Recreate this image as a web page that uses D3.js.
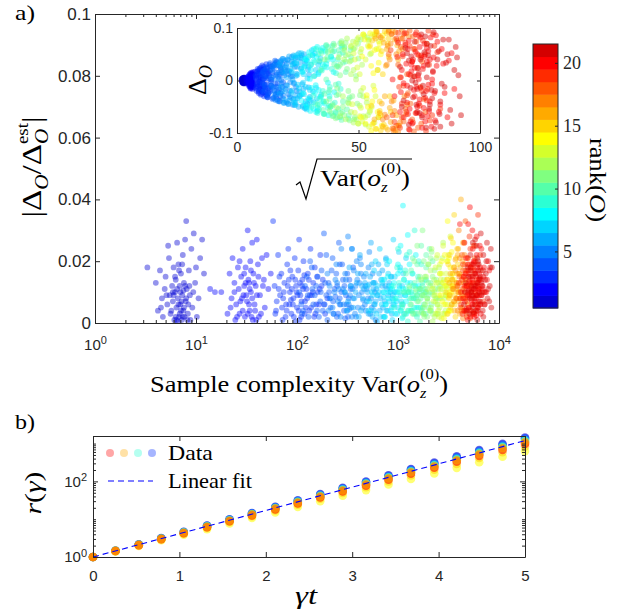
<!DOCTYPE html>
<html>
<head>
<meta charset="utf-8">
<title>Rank scatter</title>
<script src="https://cdnjs.cloudflare.com/ajax/libs/d3/7.8.5/d3.min.js"></script>
<style>
  body { margin: 0; background: #fff; }
  svg { font-family: "Liberation Sans", Arial, sans-serif; }
  .tick text { fill: #262626; }
  .domain, .tick line { stroke: #262626; stroke-width: 1; }
  .serif { font-family: "Liberation Serif", "DejaVu Serif", serif; fill: #000; }
</style>
</head>
<body>
<svg id="fig" width="628" height="616"></svg>
<script>
// each point: [Var(o_z), |dO/dO_est|, dO]
const rank01 = [[3.3,.018,.002],[4.0,.013,-.001],[4.2,.004,.003],[4.4,.017,-.003],[4.6,.008,.001],[4.7,.002,-.002],[4.9,.011,.004],[5.0,.015,0],[5.2,.006,-.004],[5.3,.025,.002],[5.4,.021,-.001],[5.5,.009,.003],[5.6,.003,-.003],[5.8,.012,.001],[5.9,.007,-.002],[6.0,.018,.005],[6.1,.001,-.005],[6.2,.010,.002],[6.3,.014,-.001],[6.4,.005,.003],[6.5,.026,-.004],[6.6,.008,.001],[6.7,.019,-.002],[6.8,.002,.004],[6.9,.012,-.003],[7.0,.006,0],[7.1,.016,.002],[7.2,.001,-.001],[7.3,.009,.005],[7.4,.022,-.005],[7.5,.004,.003],[7.6,.013,-.002],[7.8,.027,.001],[7.9,.007,-.004],[8.0,.033,.002],[8.1,.011,-.001],[8.3,.003,.004],[8.5,.017,-.003],[8.7,.009,.006],[9.0,.024,-.006],[9.2,.005,.001],[9.5,.029,-.002],[9.8,.013,.003],[10.2,.002,-.004],[10.6,.008,.005],[11.0,.021,-.001],[11.5,.027,.002],[12.0,.016,-.005],[10.0,.018,.004],[8.8,.001,-.003],[6.6,.0005,.002],[7.7,.002,-.001],
  [5.7,.004,.001],[6.0,.009,-.002],[6.3,.002,.003],[6.5,.011,-.001],[6.7,.006,.002],[6.9,.003,-.003],[7.0,.010,.004],[7.2,.007,-.001],[7.4,.002,.002],[7.6,.005,-.004],[7.8,.012,.003],[8.0,.008,-.002],[8.2,.001,.001],[8.4,.006,-.003],[6.2,.015,.002],[6.8,.017,-.004],[7.3,.019,.001],[5.9,.010,-.001],[6.4,.001,.004],[7.1,.004,-.002],[7.5,.0105,0],[8.6,.012,.005],[5.1,.009,-.003],[4.5,.005,.002],[9.4,.010,-.004]];
const rank02 = [[13.8,.011,.003],[15.4,.010,-.004],[17.8,.010,.006],[20.5,.003,-.002],[21.5,.016,.008],[22.5,.008,-.007],[23,.021,.001],[24,.013,-.010],[24.5,.001,.004],[25,.006,-.001],[26,.018,.011],[26.5,.011,-.005],[27,.003,.002],[28,.015,-.012],[28.5,.008,.007],[29,.024,-.003],[30,.012,.013],[30.5,.002,-.008],[31,.018,.004],[32,.007,-.014],[32.5,.030,.009],[33,.014,-.001],[34,.004,.015],[34.5,.020,-.006],[35,.010,.002],[36,.026,-.011],[37,.016,.012],[38,.006,-.004],[39,.012,.006],[40,.027,-.016],[41,.019,.010],[42,.002,-.002],[43,.009,.016],[45,.021,-.009],[47,.014,.004],[48,.005,-.013],[50,.022,.011],[52,.011,-.006],[55,.016,.017],[36.5,.001,-.001],[29.5,.009,.005],[33.5,.013,-.007],
  [22,.005,.006],[24,.010,-.003],[25.5,.002,.009],[27.5,.007,-.008],[29,.004,.001],[30,.016,-.011],[31.5,.009,.012],[32.5,.003,-.005],[33.5,.006,.007],[34,.011,-.002],[35.5,.002,.010],[36,.008,-.013],[37.5,.013,.003],[38.5,.004,-.009],[40,.009,.014],[41.5,.015,-.004],[44,.003,.008],[46,.012,-.010],[27,.020,.004],[31,.013,-.015],[35,.017,.005],[39.5,.001,-.007]];
const rank03 = [[58,.033,.010],[60,.012,-.015],[62,.004,.004],[65,.022,-.020],[68,.009,.017],[70,.016,-.006],[72,.001,.022],[75,.013,-.011],[78,.006,.002],[80,.019,-.024],[82,.024,.013],[85,.010,-.002],[88,.003,.019],[90,.015,-.016],[92,.008,.007],[95,.021,-.027],[98,.012,.025],[100,.005,-.009],[103,.017,.011],[105,.027,-.019],[108,.009,.029],[110,.002,-.004],[113,.014,.016],[116,.020,-.023],[120,.007,.003],[124,.011,-.030],[128,.016,.021],[132,.004,-.013],[136,.024,.008],[140,.009,-.026],[145,.013,.031],[150,.018,-.007],[155,.006,.018],[160,.010,-.032],[170,.022,.014],[180,.014,-.018],[190,.003,.027],[200,.008,-.010],[87,.0075,-.003],[97,.0005,.006],[118,.0155,-.012],
  [63,.007,.009],[67,.015,-.012],[71,.005,.018],[74,.010,-.003],[77,.002,.014],[81,.012,-.021],[84,.006,.006],[86,.017,-.009],[89,.011,.023],[93,.002,-.017],[96,.014,.001],[101,.009,-.025],[104,.004,.012],[107,.013,-.005],[111,.007,.020],[115,.011,-.014],[119,.003,.026],[126,.008,-.008],[131,.014,.017],[138,.005,-.022],[143,.010,.004],[148,.002,-.028],[158,.015,.024],[165,.006,-.015],[175,.012,.009],
  [61,.003,.005],[66,.011,-.007],[73,.008,.012],[79,.004,-.018],[83,.014,.021],[91,.006,-.011],[99,.010,.015],[106,.001,-.021],[112,.012,.003],[122,.005,.022],[134,.009,-.016],[152,.003,.013],[168,.011,-.024],[185,.006,.019]];
const rank04 = [[105,.010,.012],[115,.004,-.021],[125,.015,.005],[135,.020,-.008],[145,.006,.026],[155,.012,-.030],[165,.002,.017],[175,.017,-.014],[185,.029,.033],[195,.009,-.002],[205,.013,.022],[215,.005,-.035],[225,.021,.009],[235,.011,-.019],[245,.016,.038],[255,.003,-.026],[265,.008,.015],[280,.019,-.005],[295,.012,.029],[310,.006,-.039],[330,.014,.020],[350,.024,-.012],[200,.001,.001],[170,.007,-.024],[240,.0085,.030],[300,.0015,-.017],[140,.018,.010],[260,.026,-.031],
  [110,.006,-.005],[120,.012,.019],[130,.002,-.016],[150,.009,.008],[160,.015,-.027],[180,.004,.030],[190,.013,-.010],[210,.008,.014],[220,.017,-.033],[230,.003,.024],[250,.012,-.006],[270,.006,.035],[285,.014,-.022],[305,.009,.011],[320,.002,-.030],[340,.011,.016],[360,.018,-.003],[195,.022,.002],[265,.019,-.012],[315,.016,.026],
  [112,.003,.016],[128,.009,-.010],[142,.011,.023],[158,.004,-.032],[172,.010,.004],[188,.006,-.020],[208,.010,.027],[228,.007,-.012],[248,.002,.033],[275,.010,-.036],[292,.004,.007],[325,.008,-.024],[345,.005,.031]];
const rank05 = [[200,.016,-.010],[215,.008,.027],[230,.003,-.033],[245,.019,.004],[260,.011,.036],[275,.024,-.022],[290,.006,.015],[305,.014,-.040],[320,.028,.024],[335,.009,-.006],[350,.002,.041],[365,.017,-.029],[380,.012,.010],[400,.005,-.016],[420,.021,.032],[440,.010,-.044],[460,.015,.018],[480,.004,-.003],[510,.018,.045],[540,.008,-.035],[570,.013,.026],[600,.001,-.020],[330,.0045,.001],[450,.0075,-.026],[390,.020,.038],[250,.013,-.037],[520,.023,.008],
  [210,.012,.020],[225,.005,-.014],[240,.014,.030],[255,.007,-.027],[270,.002,.011],[285,.011,-.039],[300,.016,.003],[315,.004,.035],[340,.012,-.021],[360,.008,.014],[375,.003,-.042],[395,.014,.025],[410,.009,-.009],[430,.016,.040],[470,.006,-.031],[490,.011,.008],[530,.003,-.046],[560,.016,.033],[590,.010,-.012],[430,.019,.019],
  [205,.004,.006],[235,.010,-.024],[265,.006,.029],[295,.010,-.013],[325,.006,.038],[355,.011,-.034],[385,.002,.021],[415,.013,-.041],[445,.005,.012],[475,.012,-.020],[505,.008,.036],[550,.005,-.006],[580,.006,.043]];
const rank06 = [[300,.010,.030],[330,.018,-.012],[360,.005,.041],[390,.013,-.037],[420,.022,.006],[450,.008,-.045],[480,.016,.022],[510,.003,-.019],[540,.026,.048],[570,.011,-.028],[600,.007,.013],[640,.019,-.050],[680,.014,.035],[720,.002,-.007],[760,.021,.050],[800,.009,-.040],[850,.015,.021],[900,.006,-.031],[520,.0125,.002],[620,.0005,-.034],[350,.024,.016],[700,.017,.043],[780,.011,-.053],[440,.012,.039],
  [310,.004,-.025],[340,.012,.027],[370,.008,-.043],[400,.016,.017],[430,.004,-.010],[460,.011,.046],[490,.007,-.033],[530,.015,.031],[560,.002,-.047],[590,.013,.009],[630,.009,.044],[660,.004,-.021],[700,.012,.024],[740,.007,-.048],[820,.013,.038],[870,.003,-.013],[550,.019,-.004],[650,.016,.052],
  [320,.007,.035],[380,.010,-.020],[410,.002,.028],[470,.013,-.038],[500,.010,.015],[580,.004,-.042],[610,.011,.026],[670,.008,-.029],[710,.005,.048],[750,.012,-.016],[790,.004,.032],[840,.010,-.045],[880,.008,.011]];
const rank07 = [[500,.012,-.022],[540,.004,.040],[580,.017,-.046],[620,.009,.011],[660,.024,-.030],[700,.013,.052],[740,.002,-.004],[780,.019,.028],[820,.007,-.055],[860,.015,.045],[900,.027,-.018],[950,.010,.058],[1000,.005,-.041],[1050,.018,.020],[1100,.012,-.058],[1150,.003,.036],[1200,.021,-.027],[720,.0085,.017],[880,.001,-.036],[600,.020,.032],[1020,.023,.009],[800,.016,-.012],[560,.009,.046],
  [520,.007,.030],[570,.013,-.036],[610,.003,.049],[650,.010,-.015],[690,.006,.022],[730,.014,-.050],[770,.004,.040],[840,.011,.004],[890,.009,-.047],[930,.015,.030],[980,.003,-.021],[1030,.012,.052],[1080,.007,-.034],[1130,.016,.015],[1180,.009,.042],[760,.0205,-.026],
  [510,.004,.018],[550,.010,-.042],[590,.006,.034],[630,.012,-.008],[670,.002,.044],[710,.010,-.026],[750,.006,.012],[810,.012,-.052],[870,.005,.026],[920,.010,-.038],[970,.007,.048],[1060,.009,-.014],[1120,.006,.030]];
const rank08 = [[700,.014,-.038],[760,.006,.026],[820,.020,-.050],[880,.011,.054],[940,.003,-.014],[1000,.016,.038],[1060,.025,-.060],[1120,.038,.012],[1180,.009,-.031],[1240,.013,.062],[1300,.019,-.044],[1360,.004,.025],[1420,.008,-.066],[1500,.022,.046],[1600,.012,-.022],[900,.0075,.003],[1100,.0015,-.052],[1250,.0285,.031],[1000,.019,.060],[1400,.016,-.004],[800,.010,.042],
  [730,.010,.016],[790,.015,-.044],[850,.004,.036],[910,.013,-.058],[970,.008,.049],[1030,.011,-.024],[1090,.006,.064],[1150,.014,-.046],[1210,.003,.022],[1270,.010,-.063],[1330,.013,.055],[1450,.005,-.030],[1550,.009,.040],[1050,.017,-.009],
  [740,.002,-.024],[800,.008,.040],[860,.012,-.034],[920,.006,.020],[990,.010,-.054],[1070,.004,.045],[1130,.011,-.018],[1200,.007,.056],[1280,.004,-.040],[1350,.010,.032],[1480,.012,-.050],[1580,.005,.016]];
const rank09 = [[900,.012,.048],[980,.018,-.029],[1060,.004,.060],[1140,.014,-.055],[1220,.022,.019],[1300,.008,-.064],[1380,.016,.039],[1460,.030,-.012],[1540,.002,.066],[1620,.011,-.042],[1700,.019,.028],[1800,.006,-.070],[1900,.014,.053],[1250,.0005,-.020],[1000,.024,.008],[1600,.020,.056],[1150,.010,-.036],[1750,.013,-.006],
  [940,.008,-.050],[1020,.013,.035],[1100,.005,-.062],[1180,.017,.058],[1260,.010,-.040],[1340,.004,.066],[1420,.012,-.022],[1500,.008,.045],[1580,.015,-.067],[1660,.005,.014],[1740,.009,-.054],[1850,.011,.064],[1300,.023,.027],[1440,.003,-.048],
  [920,.005,.030],[1040,.010,-.044],[1120,.002,.050],[1200,.011,-.030],[1320,.006,.058],[1400,.009,-.052],[1520,.005,.022],[1640,.010,-.060],[1720,.004,.040],[1820,.010,-.016],[1880,.003,.066]];
const rank10 = [[1100,.006,-.046],[1200,.016,.052],[1300,.011,-.025],[1400,.021,.064],[1500,.003,-.062],[1600,.014,.031],[1700,.025,-.070],[1800,.009,.071],[1900,.018,-.040],[2000,.005,.016],[2100,.013,-.073],[2200,.020,.045],[1650,.0005,-.008],[1350,.017,.002],[1750,.012,.058],[2050,.024,-.055],[1450,.008,-.035],
  [1150,.010,.038],[1250,.004,-.056],[1350,.008,.068],[1450,.013,-.018],[1550,.007,.055],[1650,.011,-.062],[1750,.005,.026],[1850,.014,-.075],[1950,.008,.062],[2150,.006,-.032],[1550,.019,-.045],[1900,.022,.034],
  [1180,.003,.020],[1280,.010,-.064],[1380,.004,.044],[1480,.010,-.050],[1580,.003,.070],[1680,.008,-.028],[1780,.003,.050],[1880,.010,-.060],[2000,.009,.036],[2120,.004,-.066],[2180,.010,.058]];
const rank11 = [[1300,.012,.040],[1450,.020,-.058],[1600,.007,.067],[1750,.030,-.026],[1850,.015,.075],[1950,.002,-.066],[2050,.010,.022],[2150,.023,-.076],[2300,.017,.060],[2450,.006,-.044],[2600,.012,.078],[1700,.0035,-.015],[2000,.019,.048],[2250,.009,-.030],[1550,.025,-.068],[2400,.014,.009],
  [1350,.006,-.040],[1500,.011,.058],[1650,.015,-.072],[1800,.005,.030],[1900,.010,-.050],[2000,.013,.072],[2100,.004,-.020],[2200,.015,.064],[2350,.008,-.070],[2500,.011,.042],[1800,.020,.010],[2100,.021,-.036],
  [1400,.003,.054],[1550,.009,-.048],[1680,.011,.026],[1820,.002,-.062],[1960,.007,.064],[2080,.012,-.042],[2200,.003,.038],[2330,.011,-.074],[2480,.003,.070],[2560,.008,-.028]];
const rank12 = [[1700,.014,-.052],[1850,.006,.071],[2000,.019,-.074],[2150,.024,.036],[2300,.010,-.080],[2450,.003,.079],[2600,.016,-.020],[2750,.021,.085],[2900,.008,-.066],[3000,.012,.050],[2200,.0005,.012],[2550,.018,-.048],[1950,.011,.058],[2800,.026,-.084],
  [1750,.009,.044],[1900,.015,-.030],[2050,.004,.080],[2200,.012,-.060],[2350,.007,.062],[2500,.013,-.082],[2650,.008,.030],[2850,.014,-.042],[2950,.004,.078],[2400,.021,.002],[2100,.017,.050],[2700,.011,-.068],
  [1800,.003,-.068],[1950,.008,.040],[2120,.005,-.044],[2280,.014,.074],[2420,.008,-.074],[2580,.005,.054],[2700,.013,-.030],[2880,.003,.082],[2980,.009,-.060],[2300,.002,.020]];
const rank13 = [[2200,.011,.066],[2350,.018,-.061],[2500,.004,.082],[2650,.014,-.078],[2800,.025,.040],[2950,.009,-.088],[3100,.020,.087],[3250,.013,-.030],[3400,.006,.075],[2700,.0015,-.014],[2450,.022,.025],[3000,.016,-.057],[3300,.028,.060],
  [2250,.007,-.045],[2400,.013,.072],[2550,.009,-.068],[2700,.016,.088],[2850,.006,-.034],[3050,.011,.052],[3200,.004,-.080],[3350,.015,.020],[2600,.019,-.052],[2900,.012,.066],[3150,.022,-.010],[2350,.003,.040],
  [2300,.009,.052],[2480,.006,-.082],[2620,.011,.060],[2780,.003,-.070],[2920,.010,.076],[3080,.006,-.050],[3220,.009,.088],[3380,.011,-.070],[2550,.002,.012]];
const rank14 = [[2600,.016,-.070],[2750,.007,.078],[2900,.022,-.050],[3000,.012,.090],[3100,.033,-.084],[3200,.004,.058],[3300,.018,-.092],[3400,.010,.034],[3500,.026,-.066],[3600,.014,.086],[2850,.0015,-.028],[3150,.0085,.014],[3050,.020,-.096],[3450,.012,.070],
  [2650,.009,.046],[2800,.013,-.082],[2950,.006,.064],[3100,.014,-.040],[3250,.010,.094],[3350,.004,-.060],[3500,.016,.050],[3550,.007,-.086],[2700,.020,.088],[3200,.021,-.018],[3050,.003,.028],[3400,.023,.060]];
const rank15 = [[3000,.010,.066],[3150,.019,-.081],[3300,.005,.091],[3450,.014,-.040],[3600,.035,.079],[3750,.021,-.090],[3900,.008,.045],[4000,.016,-.060],[3350,.0275,.020],[3700,.002,.094],[3500,.012,-.095],[3850,.024,.070],
  [3050,.014,-.048],[3200,.008,.084],[3400,.012,-.070],[3550,.018,.056],[3650,.006,-.084],[3800,.013,.090],[3950,.010,-.030],[3100,.003,.076],[3250,.022,-.092],[3600,.009,.012],[3900,.019,.080],[3450,.016,-.058]];
const rank16 = [[3200,.013,-.074],[3400,.006,.086],[3600,.018,-.088],[3800,.011,.060],[3950,.024,-.052],[4100,.003,.095],[4250,.015,-.096],[4400,.009,.040],[4200,.040,.078],[3700,.0205,-.030],[3300,.016,.094],[4000,.007,-.079],[4350,.020,.067],
  [3250,.009,.080],[3450,.014,-.062],[3650,.004,.072],[3850,.016,-.094],[4050,.010,.088],[4300,.005,-.066],[4450,.013,.056],[3550,.011,-.044],[3900,.022,.096],[4150,.018,-.038],[3750,.008,.028],[4400,.026,-.086]];
const rank17 = [[3500,.011,.082],[3700,.017,-.065],[3900,.004,.093],[4100,.021,-.091],[4300,.009,.050],[4500,.026,-.080],[4700,.014,.088],[4900,.006,-.046],[4000,.030,.070],[4400,.0015,-.098],[3800,.013,.030],[4600,.019,.097],[4200,.008,-.058],
  [3600,.007,-.074],[3850,.012,.066],[4050,.016,-.040],[4250,.004,.092],[4450,.011,-.086],[4650,.008,.060],[4850,.017,-.064],[3950,.010,.040],[4150,.013,-.096],[4550,.022,.080],[4750,.003,-.030],[5000,.012,.084]];
const rank18 = [[3800,.008,-.070],[4050,.015,.089],[4300,.022,-.086],[4550,.004,.064],[4800,.012,-.054],[5050,.019,.095],[5300,.010,-.097],[5600,.025,.048],[5900,.006,-.035],[4650,.033,.080],[5200,.0015,-.074],[4400,.017,.030],[5450,.013,.074],[5750,.021,-.082],[4900,.009,.012],
  [3900,.012,.050],[4150,.005,-.092],[4350,.011,.076],[4600,.016,-.070],[4850,.007,.090],[5100,.013,-.044],[5350,.004,.060],[5550,.017,-.090],[5800,.010,.036],[6000,.014,-.060],[4500,.008,.006],[4950,.021,-.024],[5250,.018,.084],[5700,.003,-.012],[6100,.012,.070],[4700,.014,-.078]];
const rank19 = [[4000,.013,.058],[4200,.006,-.079],[4400,.019,.091],[4600,.010,-.044],[4800,.002,.072],[5000,.016,-.093],[5200,.024,.036],[5400,.008,-.062],[5600,.013,.085],[5800,.020,-.020],[6000,.004,.050],[6300,.011,-.076],[6600,.017,.066],[7000,.007,-.054],[5100,.028,.010],[6200,.035,.095],[4700,.012,-.010],[5500,.018,.024],[6100,.009,-.038],[5300,.015,.060],
  [4100,.008,-.066],[4300,.014,.080],[4500,.004,-.090],[4650,.017,.046],[4900,.010,-.028],[5050,.005,.066],[5250,.012,-.080],[5450,.003,.092],[5650,.016,-.048],[5850,.009,.076],[6050,.013,-.096],[6250,.006,.030],[6450,.014,-.066],[6800,.010,.054],[4850,.021,-.060],[5750,.025,.044],[6150,.019,-.016],[5350,.011,.008],[4450,.015,-.012],[6500,.022,.088]];
const rank20 = [[4200,.010,-.030],[4350,.003,.045],[4500,.015,-.060],[4600,.007,.020],[4700,.021,-.005],[4800,.012,.068],[4900,.001,-.042],[5000,.017,.012],[5100,.009,-.078],[5200,.004,.036],[5300,.013,-.018],[5400,.019,.055],[5500,.006,-.050],[5600,.011,.003],[5700,.002,.082],[5800,.016,-.066],[5900,.008,.028],[6000,.022,-.033],[6100,.012,.062],[6200,.005,-.008],[6300,.014,.040],[6400,.009,-.088],[6500,.018,.016],[6600,.003,-.024],[6800,.011,.074],[7000,.015,-.046],[7200,.006,.032],[7500,.010,-.070],[7800,.020,.052],[4750,.0045,.090],[5050,.0135,-.094],[5350,.0075,.024],[5650,.0195,-.036],[5950,.0025,.046],[6250,.0105,-.058],[4550,.026,.006],[5450,.030,-.012],[6700,.024,.086],[8000,.017,-.016],[4950,.0085,.060],[5150,.0375,.030],[4950,.032,-.064],[4100,.032,.002],
  [4400,.008,.072],[4550,.012,-.022],[4650,.004,.050],[4700,.016,-.070],[4850,.009,.032],[4900,.019,-.010],[5000,.005,.076],[5050,.011,-.054],[5150,.015,.018],[5200,.002,-.082],[5250,.018,.040],[5350,.010,-.030],[5400,.006,.088],[5450,.014,-.062],[5550,.009,.010],[5600,.020,-.044],[5650,.003,.064],[5700,.012,-.014],[5750,.007,.048],[5800,.017,-.090],[5850,.011,.022],[5900,.004,-.052],[5950,.015,.070],[6050,.009,-.020],[6100,.018,.036],[6150,.005,-.068],[6200,.013,.056],[6300,.007,-.040],[6350,.016,.082],[6450,.011,-.006],[6550,.006,.044],[6650,.014,-.076],[6750,.009,.028],[6900,.012,-.060],[7100,.018,.060],[7300,.010,-.024],[7600,.014,.038],[5500,.024,.050],[6000,.028,-.078],[6450,.025,.002]];
const rank21 = [[4500,.006,.026],[4700,.013,-.038],[4900,.018,.052],[5100,.003,-.014],[5300,.010,.008],[5500,.015,-.060],[5700,.008,.040],[5900,.012,-.026],[6100,.001,.070],[6300,.019,-.046],[6500,.007,.018],[6700,.013,-.080],[6900,.004,.056],[7100,.010,-.006],[7400,.016,.034],[7700,.008,-.056],[8100,.012,.064],[8400,.005,-.030],[5200,.022,0],[6000,.025,.084],[6600,.029,-.092],[5600,.0035,.014],[6400,.0145,-.018],[5000,.0105,.038],[5800,.027,-.070],[6200,.020,.048],[7000,.022,-.040],[7600,.026,.078],[8300,.024,.010],[5400,.009,-.004],[8500,.018,-.066],
  [4600,.010,-.050],[4800,.004,.062],[5000,.015,-.084],[5150,.008,.046],[5250,.017,-.032],[5350,.012,.074],[5450,.005,-.046],[5550,.019,.024],[5650,.011,-.062],[5750,.006,.088],[5850,.016,-.010],[5950,.009,.054],[6050,.013,-.090],[6150,.004,.030],[6250,.017,-.054],[6350,.010,.066],[6450,.006,-.034],[6550,.015,.092],[6650,.009,-.020],[6800,.012,.040],[6950,.017,-.064],[7200,.006,.078],[7300,.014,-.012],[7500,.020,.050],[7800,.011,-.082],[8000,.007,.020],[7000,.002,-.088],[6100,.021,.006],[5500,.026,-.016],[8200,.018,.044]];
const byRank = [rank01,rank02,rank03,rank04,rank05,rank06,rank07,rank08,rank09,rank10,rank11,rank12,rank13,rank14,rank15,rank16,rank17,rank18,rank19,rank20,rank21];

// panel b
const gammaT = [0,0.26,0.53,0.79,1.05,1.32,1.58,1.84,2.11,2.37,2.63,2.89,3.16,3.42,3.68,3.95,4.21,4.47,4.74,5];
const rBlue   = [1,1.467,2.151,3.155,4.627,6.786,9.95,14.6,21.4,31.4,46.1,67.5,99.1,145,213,313,458,672,986,1445];
const rAzure  = [1,1.46,2.14,3.13,4.58,6.70,9.80,14.3,21.0,30.7,44.9,65.7,96.1,141,206,301,440,644,942,1380];
const rCyan   = [1,1.46,2.12,3.09,4.51,6.57,9.57,13.9,20.3,29.6,43.1,62.8,91.5,133,194,283,412,601,875,1276];
const rMint   = [1,1.45,2.11,3.06,4.45,6.45,9.37,13.6,19.8,28.7,41.7,60.5,87.9,128,185,269,391,567,824,1196];
const rLime   = [1,1.449,2.10,3.04,4.41,6.39,9.26,13.4,19.4,28.2,40.8,59.1,85.7,124,180,261,378,547,793,1149];
const rPale   = [1,1.40,1.97,2.77,3.89,5.46,7.66,10.8,15.1,21.2,29.8,41.8,58.7,82.4,116,162,228,320,449,631];
const rYellow = [1,1.43,2.03,2.90,4.13,5.88,8.39,12.0,17.0,24.3,34.6,49.4,70.4,100,143,204,290,414,590,841];
const rRed    = [1,1.44,2.06,2.97,4.26,6.12,8.79,12.6,18.1,26.1,37.4,53.8,77.2,111,159,229,329,473,679,975];
const rVermil = [1,1.442,2.079,3.00,4.32,6.24,8.99,13.0,18.7,27.0,38.9,56.1,80.8,117,168,242,350,504,727,1047];
const rOrange = [1,1.45,2.09,3.02,4.37,6.31,9.12,13.2,19.1,27.5,39.8,57.5,83.2,120,174,251,363,525,759,1096];
const bSeries = [rBlue, rAzure, rCyan, rMint, rLime, rPale, rYellow, rRed, rVermil, rOrange];
const seriesRank = [1, 3, 6, 9, 11, 14, 15, 20, 18, 16];
const fitT = [0, 5];
const fitR = [1, 1200];
const legendRank = [20, 16, 9, 3];

// MATLAB jet(21)
const jet = ["#0000d4","#0000ff","#002bff","#0055ff","#0080ff","#00aaff","#00d4ff","#00ffff","#2bffd4","#55ffaa",
  "#80ff80","#aaff55","#d4ff2b","#ffff00","#ffd400","#ffaa00","#ff8000","#ff5500","#ff2b00","#ff0000","#d40000"];

const svg = d3.select("#fig");
const ink = "#262626";

// LaTeX-like label in one <text>: pieces go left to right, "stack" pieces share the x of the previous one
function mathText(parent, pieces, x, y, rot, width, anchor) {
  const g = parent.append("g").attr("class", "serif");
  const txt = g.append("text");
  let cx = 0, lastStart = 0;
  pieces.forEach(p => {
    const start = p.stack ? lastStart : cx;
    const ts = txt.append("tspan").attr("x", start).attr("y", p.dy || 0)
      .attr("font-size", p.size).attr("font-style", p.it ? "italic" : "normal").text(p.t);
    const w = ts.node().getComputedTextLength();
    if (!p.stack) lastStart = start;
    cx = Math.max(cx, start + w);
  });
  const sx = width ? width / cx : 1;
  const off = anchor === "start" ? 0 : -cx / 2;
  txt.attr("transform", `scale(${sx},1) translate(${off},0)`);
  g.attr("transform", `translate(${x},${y}) rotate(${rot || 0})`);
  return g;
}

function supLabels(g, size) {
  g.selectAll(".tick text").each(function(d) {
    const t = d3.select(this).text("");
    t.append("tspan").text("10");
    t.append("tspan").attr("dy", "-0.5em").attr("font-size", size).text(Math.round(Math.log10(d)));
  });
}

function logMinor(lo, hi) {
  const out = [];
  for (let e = lo; e < hi; e++) for (let m = 2; m < 10; m++) out.push(m * Math.pow(10, e));
  return out;
}

// ---------- panel a: main ----------
const mx = d3.scaleLog().domain([1, 1e4]).range([95, 499]);
const my = d3.scaleLinear().domain([0, 0.1]).range([323, 14]);

svg.append("clipPath").attr("id", "clipMain").append("rect")
  .attr("x", 95).attr("y", 14).attr("width", 404).attr("height", 309);

const dots = svg.append("g").attr("clip-path", "url(#clipMain)");
byRank.forEach((pts, i) => {
  dots.selectAll(null).data(pts).join("circle")
    .attr("cx", d => mx(d[0])).attr("cy", d => my(d[1])).attr("r", 2.9)
    .attr("fill", jet[i]).attr("fill-opacity", 0.42);
});

const xMaj = [1, 10, 100, 1000, 10000];
const xMin = logMinor(0, 4);
svg.append("g").attr("transform", "translate(0,323)")
  .call(d3.axisBottom(mx).tickValues(xMaj).tickSize(-5).tickSizeOuter(0).tickPadding(16))
  .call(g => g.selectAll("text").attr("font-size", 15))
  .call(g => supLabels(g, 11));
svg.append("g").attr("transform", "translate(0,323)")
  .call(d3.axisBottom(mx).tickValues(xMin).tickSize(-3).tickFormat(""))
  .call(g => g.select(".domain").remove());
svg.append("g").attr("transform", "translate(0,14)")
  .call(d3.axisTop(mx).tickValues(xMaj).tickSize(-5).tickSizeOuter(0).tickFormat(""));
svg.append("g").attr("transform", "translate(0,14)")
  .call(d3.axisTop(mx).tickValues(xMin).tickSize(-3).tickFormat(""))
  .call(g => g.select(".domain").remove());
svg.append("g").attr("transform", "translate(95,0)")
  .call(d3.axisLeft(my).tickValues([0, .02, .04, .06, .08, .1]).tickSize(-5).tickSizeOuter(0).tickPadding(4)
    .tickFormat(d => d === 0 ? "0" : String(+d.toFixed(2))))
  .call(g => g.selectAll("text").attr("font-size", 17));
svg.append("g").attr("transform", "translate(499,0)")
  .call(d3.axisRight(my).tickValues([0, .02, .04, .06, .08, .1]).tickSize(-5).tickSizeOuter(0).tickFormat(""));

// ---------- panel a: inset ----------
const ix = d3.scaleLinear().domain([0, 100]).range([237, 480]);
const iy = d3.scaleLinear().domain([-0.1, 0.1]).range([133, 28]);
svg.append("rect").attr("x", 237).attr("y", 28).attr("width", 243).attr("height", 105).attr("fill", "#fff");
svg.append("clipPath").attr("id", "clipInset").append("rect")
  .attr("x", 237).attr("y", 28).attr("width", 243).attr("height", 105);
const idots = svg.append("g").attr("clip-path", "url(#clipInset)");
byRank.forEach((pts, i) => {
  idots.selectAll(null).data(pts).join("circle")
    .attr("cx", d => ix(Math.sqrt(d[0]))).attr("cy", d => iy(d[2])).attr("r", 2.9)
    .attr("fill", jet[i]).attr("fill-opacity", 0.45);
});
svg.append("g").attr("transform", "translate(0,133)")
  .call(d3.axisBottom(ix).tickValues([0, 50, 100]).tickSize(-3).tickSizeOuter(0).tickPadding(9))
  .call(g => g.selectAll("text").attr("font-size", 14));
svg.append("g").attr("transform", "translate(0,28)")
  .call(d3.axisTop(ix).tickValues([0, 50, 100]).tickSize(-3).tickSizeOuter(0).tickFormat(""));
svg.append("g").attr("transform", "translate(237,0)")
  .call(d3.axisLeft(iy).tickValues([-0.1, 0, 0.1]).tickSize(-3).tickSizeOuter(0).tickPadding(4)
    .tickFormat(d => d === 0 ? "0" : String(d)))
  .call(g => g.selectAll("text").attr("font-size", 14));
svg.append("g").attr("transform", "translate(480,0)")
  .call(d3.axisRight(iy).tickValues([-0.1, 0, 0.1]).tickSize(-3).tickSizeOuter(0).tickFormat(""));

// ---------- colorbar ----------
const cy = d3.scaleLinear().domain([0.5, 21.5]).range([308, 44]);
svg.append("g").selectAll("rect").data(jet).join("rect")
  .attr("x", 533).attr("width", 25)
  .attr("y", (c, i) => cy(i + 1.5)).attr("height", (c, i) => cy(i + 0.5) - cy(i + 1.5) + 0.5)
  .attr("fill", c => c);
svg.append("rect").attr("x", 533).attr("y", 44).attr("width", 25).attr("height", 264)
  .attr("fill", "none").attr("stroke", ink);
svg.append("g").attr("transform", "translate(558,0)")
  .call(d3.axisRight(cy).tickValues([5, 10, 15, 20]).tickSize(-3).tickSizeOuter(0).tickPadding(5))
  .call(g => g.select(".domain").remove())
  .call(g => g.selectAll("text").attr("font-size", 18).attr("fill", "#000")
    .attr("font-family", "'Liberation Serif', serif"));

// ---------- panel b ----------
const bx = d3.scaleLinear().domain([0, 5]).range([93, 525]);
const by = d3.scaleLog().domain([1, Math.pow(10, 3.2)]).range([557, 436]);
bSeries.forEach((vals, k) => {
  svg.append("g").selectAll("circle").data(vals).join("circle")
    .attr("cx", (v, i) => bx(gammaT[i])).attr("cy", v => by(v)).attr("r", 4.3)
    .attr("fill", jet[seriesRank[k] - 1]).attr("fill-opacity", 0.55);
});
svg.append("path")
  .attr("d", d3.line().x(t => bx(t)).y((t, i) => by(fitR[i]))(fitT))
  .attr("fill", "none").attr("stroke", "#0000ff").attr("stroke-width", 1.1).attr("stroke-dasharray", "6,4");

svg.append("g").attr("transform", "translate(0,557)")
  .call(d3.axisBottom(bx).ticks(5).tickSize(-5).tickSizeOuter(0).tickPadding(13))
  .call(g => g.selectAll("text").attr("font-size", 15));
svg.append("g").attr("transform", "translate(0,436)")
  .call(d3.axisTop(bx).ticks(5).tickSize(-5).tickSizeOuter(0).tickFormat(""));
const yMin = logMinor(0, 4).filter(v => v < Math.pow(10, 3.2)).concat([10, 1000]);
svg.append("g").attr("transform", "translate(93,0)")
  .call(d3.axisLeft(by).tickValues([1, 100]).tickSize(-5).tickSizeOuter(0).tickPadding(6))
  .call(g => g.selectAll("text").attr("font-size", 15))
  .call(g => supLabels(g, 11));
svg.append("g").attr("transform", "translate(93,0)")
  .call(d3.axisLeft(by).tickValues(yMin).tickSize(-3).tickFormat(""))
  .call(g => g.select(".domain").remove());
svg.append("g").attr("transform", "translate(525,0)")
  .call(d3.axisRight(by).tickValues([1, 100]).tickSize(-5).tickSizeOuter(0).tickFormat(""));
svg.append("g").attr("transform", "translate(525,0)")
  .call(d3.axisRight(by).tickValues(yMin).tickSize(-3).tickFormat(""))
  .call(g => g.select(".domain").remove());

// legend
svg.append("g").selectAll("circle").data(legendRank).join("circle")
  .attr("cx", (r, i) => 110 + i * 14).attr("cy", 453).attr("r", 4)
  .attr("fill", r => jet[r - 1]).attr("fill-opacity", 0.35);
svg.append("line").attr("x1", 108).attr("x2", 153).attr("y1", 481).attr("y2", 481)
  .attr("stroke", "#0000ff").attr("stroke-width", 1.1).attr("stroke-dasharray", "6,4");
mathText(svg, [{t: "Data", size: 21}], 168, 460, 0, 45, "start");
mathText(svg, [{t: "Linear fit", size: 21}], 168, 488, 0, 84, "start");

// ---------- labels ----------
mathText(svg, [{t: "a)", size: 22}], 15, 20, 0, 20, "start");
mathText(svg, [{t: "b)", size: 22}], 15, 429, 0, 20, "start");

mathText(svg, [{t: "|Δ", size: 28}, {t: "O", size: 18, it: true, dy: 7}, {t: "/Δ", size: 28},
  {t: "O", size: 18, it: true, dy: 7}, {t: "est", size: 16, dy: -13, stack: true}, {t: "|", size: 28}],
  41, 167, -90, 101);

mathText(svg, [{t: "Sample complexity Var(", size: 24}, {t: "o", size: 24, it: true},
  {t: "z", size: 15, it: true, dy: 6}, {t: "(0)", size: 15, dy: -13, stack: true}, {t: ")", size: 24}],
  299, 392, 0, 298);

mathText(svg, [{t: "Δ", size: 26}, {t: "O", size: 18, it: true, dy: 6}], 206, 80, -90, 30);

mathText(svg, [{t: "Var(", size: 24}, {t: "o", size: 24, it: true},
  {t: "z", size: 15, it: true, dy: 6}, {t: "(0)", size: 15, dy: -13, stack: true}, {t: ")", size: 24}],
  320, 186, 0, 90, "start");
svg.append("path").attr("d", "M296,185 L300,182 L306,199 L317,159 L412,159")
  .attr("fill", "none").attr("stroke", "#000").attr("stroke-width", 1.2);

mathText(svg, [{t: "rank(", size: 24}, {t: "O", size: 24, it: true}, {t: ")", size: 24}], 590, 180, 90, 84);

mathText(svg, [{t: "r", size: 24, it: true}, {t: "(", size: 24}, {t: "γ", size: 24, it: true}, {t: ")", size: 24}],
  41, 493, -90, 43);
mathText(svg, [{t: "γt", size: 25, it: true}], 306, 604, 0, 22);
</script>
</body>
</html>
